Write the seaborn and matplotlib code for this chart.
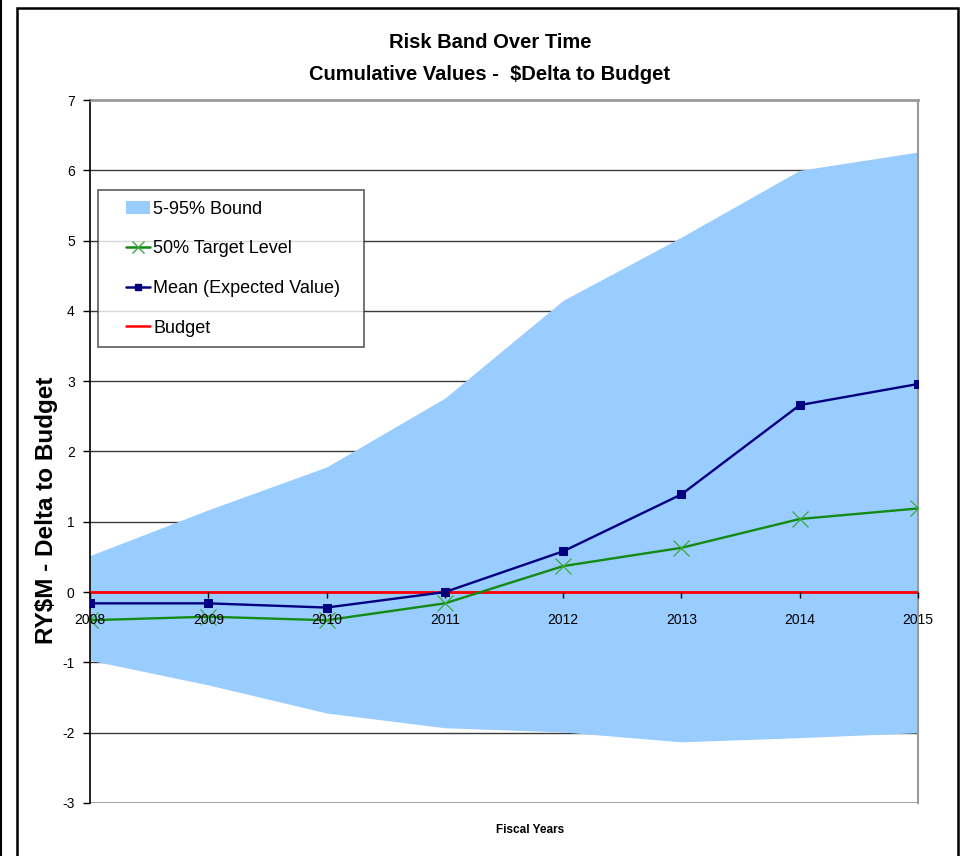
import matplotlib
matplotlib.use("Agg")
import matplotlib.pyplot as plt
from matplotlib.patches import Rectangle, Patch
from matplotlib.lines import Line2D
from matplotlib.legend_handler import HandlerLine2D, HandlerPatch
import seaborn as sns
import pandas as pd

# Fiscal years and cumulative delta-to-budget values (RY$M)
years = [2008, 2009, 2010, 2011, 2012, 2013, 2014, 2015]
upper_95 = [0.52, 1.17, 1.78, 2.76, 4.15, 5.05, 6.00, 6.26]
lower_5 = [-0.97, -1.32, -1.72, -1.93, -1.99, -2.13, -2.07, -2.00]
mean_values = [-0.16, -0.16, -0.22, 0.00, 0.58, 1.39, 2.66, 2.96]
target_50 = [-0.40, -0.35, -0.40, -0.16, 0.37, 0.63, 1.04, 1.19]
budget = [0, 0, 0, 0, 0, 0, 0, 0]
y_ticks = [-3, -2, -1, 0, 1, 2, 3, 4, 5, 6, 7]

df = pd.DataFrame({"year": years, "mean": mean_values,
                   "target": target_50, "budget": budget})

sns.set_style("white")
font = ["Liberation Sans", "DejaVu Sans"]
plt.rcParams["font.family"] = font
plt.rcParams["text.color"] = "black"
plt.rcParams["xtick.color"] = "black"
plt.rcParams["ytick.color"] = "black"

fig = plt.figure(figsize=(9.6, 8.56), dpi=100)
ax = fig.add_axes([90 / 960, 1 - 803 / 856, (918 - 90) / 960, (803 - 100) / 856])

band_color = "#99CCFF"
green = "#138A13"
green_marker = "#3AA83A"
navy = "#000080"
red = "#FF0000"

# horizontal gridlines behind the band
for v in y_ticks[1:-1]:
    ax.axhline(v, color="#3a3a3a", lw=1.0, zorder=0)
ax.axhline(-3, color="#999999", lw=2.0, zorder=0)

ax.fill_between(years, lower_5, upper_95, color=band_color, lw=0, zorder=1)
sns.lineplot(data=df, x="year", y="budget", color=red, lw=2.0, ax=ax, zorder=3)
sns.lineplot(data=df, x="year", y="target", color=green, lw=1.7, marker="x",
             markersize=11, markeredgecolor=green_marker, markeredgewidth=0.9,
             ax=ax, zorder=4)
sns.lineplot(data=df, x="year", y="mean", color=navy, lw=1.7, marker="s",
             markersize=5.5, markeredgecolor=navy, ax=ax, zorder=5)

ax.set_xlim(years[0], years[-1])
ax.set_ylim(-3, 7)
ax.set_yticks(y_ticks)
ax.set_yticklabels([str(t) for t in y_ticks], fontsize=10)
ax.set_xticks(years)
ax.set_xticklabels([str(y) for y in years], fontsize=10)
ax.set_xlabel("")
ax.set_ylabel("")

# x axis crosses at zero, drawn above the band
ax.set_axisbelow(False)
ax.xaxis.set_zorder(6)
ax.spines["bottom"].set_position(("data", 0))
ax.spines["bottom"].set_color("black")
ax.spines["bottom"].set_zorder(2)
ax.spines["left"].set_color("black")
ax.spines["left"].set_linewidth(1.2)
ax.spines["top"].set_color("#999999")
ax.spines["top"].set_linewidth(2.0)
ax.spines["right"].set_color("#999999")
ax.spines["right"].set_linewidth(1.5)
ax.tick_params(axis="x", direction="out", length=4, width=1, color="black", pad=11,
               bottom=True)
ax.tick_params(axis="y", direction="out", length=5, width=1, color="black", pad=6,
               left=True)

legend_handles = [
    Patch(facecolor=band_color, edgecolor="none", label="5-95% Bound"),
    Line2D([], [], color=green, lw=1.8, marker="x", markersize=9,
           markeredgecolor=green_marker, label="50% Target Level"),
    Line2D([], [], color=navy, lw=1.8, marker="s", markersize=4.5,
           label="Mean (Expected Value)"),
    Line2D([], [], color=red, lw=1.8, label="Budget"),
]
fs = 13
x0 = (98 - 90) / 828
y1 = (803 - 190) / 703
w = (364 - 98) / 828
h = (347 - 190) / 703
leg = ax.legend(handles=legend_handles, loc="upper left",
                bbox_to_anchor=(x0, y1 - h, w, h), mode="expand",
                prop={"family": font, "size": fs}, frameon=True, fancybox=False,
                borderpad=0.6, labelspacing=1.25, handlelength=2.3,
                handletextpad=0.15, borderaxespad=0,
                handler_map={Line2D: HandlerLine2D(xpad=0.95),
                             Patch: HandlerPatch(xpad=0.95)})
leg.get_frame().set_edgecolor("#333333")
leg.get_frame().set_linewidth(1.2)
leg.set_zorder(10)

fig.text(490 / 960, 1 - 42 / 856, "Risk Band Over Time", ha="center", va="center",
         fontsize=14.5, fontweight="bold")
fig.text(490 / 960, 1 - 74 / 856, "Cumulative Values -  $Delta to Budget", ha="center",
         va="center", fontsize=14.5, fontweight="bold")
fig.text(47 / 960, 1 - 510 / 856, "RY$M - Delta to Budget", rotation=90, ha="center",
         va="center", fontsize=17.5, fontweight="bold")
fig.text(530 / 960, 1 - 830 / 856, "Fiscal Years", ha="center", va="center",
         fontsize=8.5, fontweight="bold")

# outer chart frame
fig.add_artist(Rectangle((17 / 960, -0.05), (958 - 17) / 960, 1.05 - 8 / 856,
                         transform=fig.transFigure, fill=False, edgecolor="black",
                         lw=1.8))
fig.add_artist(Line2D([1 / 960, 1 / 960], [0, 1], transform=fig.transFigure,
                      color="black", lw=1.5))

fig.savefig("out.png", dpi=100)
